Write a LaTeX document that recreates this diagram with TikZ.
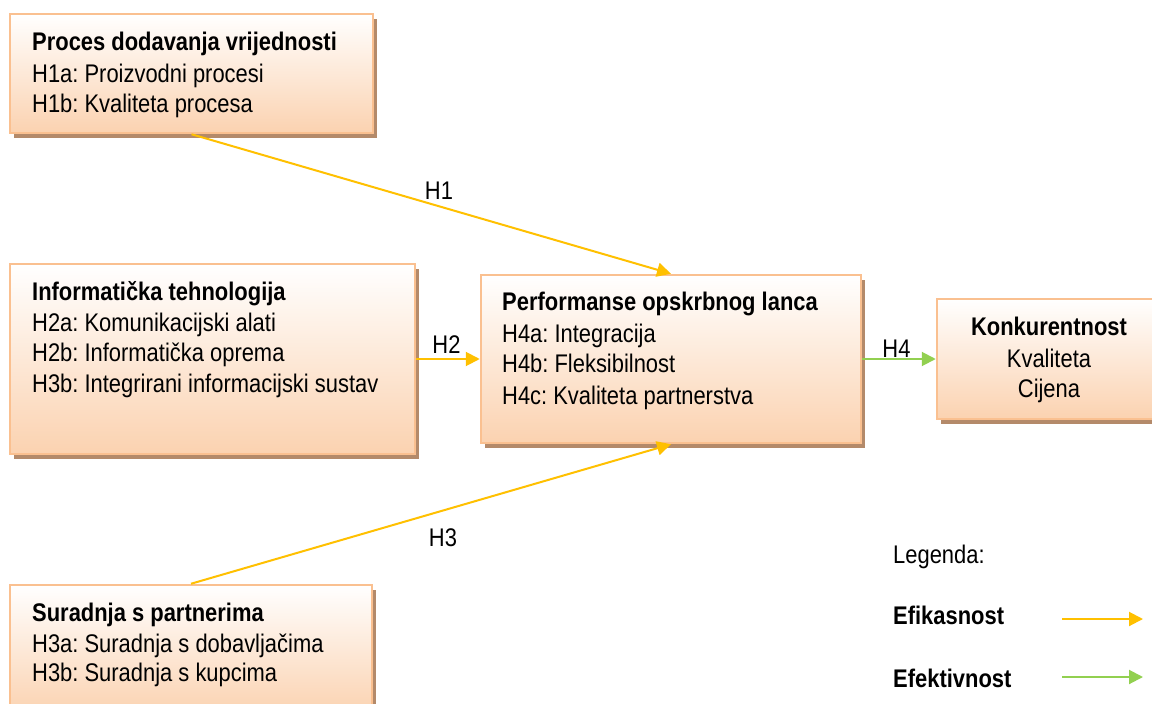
\documentclass[tikz,border=0pt]{standalone}
\usepackage{fontspec}
\setmainfont{Liberation Sans}[FakeStretch=0.86]
\usetikzlibrary{arrows.meta,shadows}
\frenchspacing
\definecolor{boxline}{RGB}{250,192,144}
\definecolor{boxfill}{RGB}{251,210,176}
\definecolor{shadowc}{RGB}{180,138,106}
\definecolor{effic}{RGB}{255,192,0}
\definecolor{effec}{RGB}{146,208,80}
\tikzset{
  box/.style={draw=boxline, line width=2.5pt, top color=white, bottom color=boxfill,
    rectangle, inner sep=0pt,
    drop shadow={shadow xshift=4pt, shadow yshift=-5pt, opacity=1, fill=shadowc}},
  txt/.style={anchor=base west, inner sep=0pt, font=\fontsize{25.5}{30}\selectfont},
  head/.style={anchor=base west, inner sep=0pt, font=\fontsize{25.5}{30}\selectfont\bfseries},
  ctxt/.style={anchor=base, inner sep=0pt, font=\fontsize{25.5}{30}\selectfont},
  chead/.style={anchor=base, inner sep=0pt, font=\fontsize{25.5}{30}\selectfont\bfseries},
  effarrow/.style={draw=effic, line width=2pt, -{Triangle[length=14pt,width=14pt]}},
  efkarrow/.style={draw=effec, line width=2pt, -{Triangle[length=14pt,width=14pt]}}
}
\begin{document}
\begin{tikzpicture}[x=1pt,y=-1pt]
\useasboundingbox (0,0) rectangle (1152,704);
\fill[white] (0,0) rectangle (1152,704);
% boxes
\node[box, minimum width=363pt, minimum height=119pt] (b1) at (191.5,73.5) {};
\node[box, minimum width=405pt, minimum height=190pt] (b2) at (212.5,359) {};
\node[box, minimum width=362pt, minimum height=130pt] (b3) at (191,650) {};
\node[box, minimum width=380pt, minimum height=168pt] (bc) at (671,359) {};
\node[box, minimum width=228pt, minimum height=120pt] (bk) at (1051,359) {};
% texts box 1
\node[head] (t11) at (32,50) {Proces dodavanja vrijednosti};
\node[txt] (t12) at (32,82.7) {H1a: Proizvodni procesi};
\node[txt] (t13) at (32,112.7) {H1b: Kvaliteta procesa};
% box 2
\node[head] (t21) at (32,300.7) {Informatička tehnologija};
\node[txt] (t22) at (32,331.7) {H2a: Komunikacijski alati};
\node[txt] (t23) at (32,361.7) {H2b: Informatička oprema};
\node[txt] (t24) at (32,392.7) {H3b: Integrirani informacijski sustav};
% box 3
\node[head] (t31) at (32,621.7) {Suradnja s partnerima};
\node[txt] (t32) at (32,652.7) {H3a: Suradnja s dobavljačima};
\node[txt] (t33) at (32,681.7) {H3b: Suradnja s kupcima};
% center box
\node[head] (tc1) at (502,310.7) {Performanse opskrbnog lanca};
\node[txt] (tc2) at (502,342.7) {H4a: Integracija};
\node[txt] (tc3) at (502,372.7) {H4b: Fleksibilnost};
\node[txt] (tc4) at (502,404.7) {H4c: Kvaliteta partnerstva};
% konkurentnost
\node[chead] (tk1) at (1049,335) {Konkurentnost};
\node[ctxt] (tk2) at (1049,367) {Kvaliteta};
\node[ctxt] (tk3) at (1049,397) {Cijena};
% connectors
\draw[effarrow] (b1.south) -- (bc.north);
\draw[effarrow] (b2.east) -- (bc.west);
\draw[effarrow] (b3.north) -- (bc.south);
\draw[efkarrow] (bc.east) -- (bk.west);
% labels
\node[ctxt] (h1) at (439,199) {H1};
\node[ctxt] (h2) at (446.5,353) {H2};
\node[ctxt] (h3) at (443,546) {H3};
\node[ctxt] (h4) at (896.5,357) {H4};
% legend
\node[txt] (leg) at (893,563) {Legenda:};
\node[head] (l1) at (893,624) {Efikasnost};
\node[head] (l2) at (893,687) {Efektivnost};
\coordinate (a1s) at (1062,619);
\coordinate (a1e) at (1143,619);
\coordinate (a2s) at (1062,677);
\coordinate (a2e) at (1143,677);
\draw[effarrow] (a1s) -- (a1e);
\draw[efkarrow] (a2s) -- (a2e);
\end{tikzpicture}
\end{document}
